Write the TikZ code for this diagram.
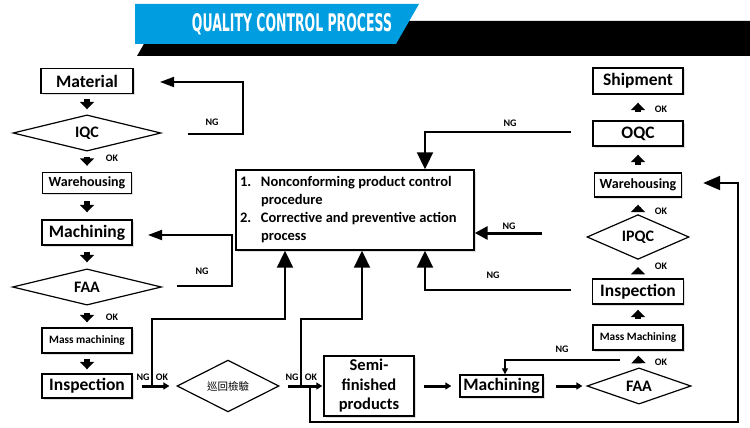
\documentclass[tikz,border=0pt]{standalone}
\usepackage{fontspec}
\setmainfont{Carlito}
\newfontfamily\cjkfont{Noto Sans CJK TC}
\newfontfamily\bannerfont{DejaVu Sans}
\usetikzlibrary{arrows.meta,shapes.geometric,shadows}
\definecolor{bannerblue}{RGB}{0,157,224}
\begin{document}
\begin{tikzpicture}[x=1pt,y=-1pt,
  box/.style={draw, line width=1.4pt, fill=white, inner sep=0pt,
    drop shadow={opacity=0.25,shadow xshift=1.5pt,shadow yshift=-1.5pt}},
  dia/.style={draw, diamond, line width=1.2pt, fill=white, inner sep=0pt},
  bsize/.style={font=\fontsize{17.5}{18}\selectfont\bfseries},
  dsize/.style={font=\fontsize{16}{16}\selectfont\bfseries},
  msize/.style={font=\fontsize{14}{15}\selectfont\bfseries},
  ssize/.style={font=\fontsize{11.3}{12}\selectfont\bfseries},
  fat/.style={line width=5.5pt, -{Triangle[width=14pt,length=7.5pt]}},
  ngline/.style={line width=1.8pt, -{Triangle[width=10pt,length=14pt]}},
  bigarr/.style={line width=2pt, -{Triangle[width=16pt,length=17pt]}},
  flow/.style={line width=3pt, -{Triangle[width=7pt,length=6pt]}},
  lbl/.style={font=\fontsize{10}{10}\selectfont\bfseries, inner sep=0pt},
  plain/.style={line width=1.8pt}
]
\useasboundingbox (0,0) rectangle (750,428);
\fill[white] (0,0) rectangle (750,428);

% banner
\fill[black] (137,56) -- (157,21) -- (750,21) -- (750,56) -- cycle;
\fill[bannerblue] (135,4) -- (419,4) -- (396,44) -- (135,44) -- cycle;
\node[text=white, inner sep=0pt] (title) at (292,24)
  {\resizebox{200pt}{18pt}{\bannerfont\bfseries QUALITY CONTROL PROCESS}};

% left column
\node[box, bsize, minimum width=92pt, minimum height=25pt] (mat) at (87,81) {Material};
\node[dia, dsize, minimum width=148pt, minimum height=33pt] (iqc) at (87,133) {IQC};
\node[box, msize, minimum width=89pt, minimum height=21pt] (wh1) at (87,183) {Warehousing};
\node[box, bsize, minimum width=90pt, minimum height=25pt] (mach1) at (87,232.5) {Machining};
\node[dia, dsize, minimum width=149pt, minimum height=34pt] (faa1) at (87,287) {FAA};
\node[box, ssize, minimum width=90pt, minimum height=25pt] (mass1) at (87,340.5) {Mass machining};
\node[box, bsize, minimum width=90pt, minimum height=24pt] (insp1) at (87,386) {Inspection};

\draw[fat, shorten <=5pt, shorten >=5pt] (mat) -- (iqc);
\draw[fat, shorten <=5pt, shorten >=6pt] (iqc) -- (wh1);
\draw[fat, shorten <=7pt, shorten >=7pt] (wh1) -- (mach1);
\draw[fat, shorten <=6pt, shorten >=6pt] (mach1) -- (faa1);
\draw[fat, shorten <=7pt, shorten >=5pt] (faa1) -- (mass1);
\draw[fat, shorten <=5pt, shorten >=4pt] (mass1) -- (insp1);
\node[lbl] (ok1) at (112,158) {OK};
\node[lbl] (ok2) at (112,317) {OK};

% central box
\node[box, minimum width=238pt, minimum height=74pt, text width=230pt, inner sep=4pt, align=left] (big) at (355,210)
  {\fontsize{14.5}{18}\selectfont\bfseries
   \begin{tabular}{@{}p{21pt}@{}l@{}}
   1. & Nonconforming product control\\
      & procedure\\
   2. & Corrective and preventive action\\
      & process
   \end{tabular}};

% left NG loops
\coordinate (iqcng) at (188,134);
\coordinate (matng) at (160,82);
\draw[ngline] (iqcng) -| (243,82) -- (matng);
\node[lbl] (ng1) at (212,122) {NG};
\coordinate (faang) at (177,286);
\coordinate (machng) at (148,235);
\draw[ngline] (faang) -| (232,235) -- (machng);
\node[lbl] (ng2) at (202,271) {NG};

% bottom row
\node[dia, minimum width=102pt, minimum height=28pt, font=\fontsize{10.5}{11}\cjkfont] (cn) at (228,386) {巡回檢驗};
\node[box, align=center, minimum width=90pt, minimum height=60pt, font=\fontsize{16.5}{19.5}\selectfont\bfseries] (semi) at (369,386) {Semi-\\finished\\products};
\node[box, bsize, minimum width=83pt, minimum height=22pt] (mach2) at (501.5,386) {Machining};
\node[dia, dsize, minimum width=104pt, minimum height=32pt] (faa2) at (639,386) {FAA};

% right column
\node[box, ssize, minimum width=90pt, minimum height=25pt] (mass2) at (638,337.5) {Mass Machining};
\node[box, bsize, minimum width=91pt, minimum height=25pt] (insp2) at (638,291.5) {Inspection};
\node[dia, dsize, minimum width=102pt, minimum height=30pt] (ipqc) at (638,237) {IPQC};
\node[box, msize, minimum width=87pt, minimum height=24pt] (wh2) at (638,185) {Warehousing};
\node[box, bsize, minimum width=90pt, minimum height=25pt] (oqc) at (638,133.5) {OQC};
\node[box, bsize, minimum width=90pt, minimum height=26pt] (ship) at (638,81) {Shipment};

\draw[flow] ([xshift=9pt]insp1.east) -- ([xshift=-7pt]cn.west);
\node[lbl] (ng3) at (143,377) {NG};
\node[lbl] (ok3) at (162,377) {OK};
\coordinate (j1) at (152,386);
\coordinate (c1) at (285,319);
\draw[bigarr] (j1) |- (c1) -- (c1 |- big.south);

\draw[flow] ([xshift=8pt]cn.east) -- ([xshift=-1pt]semi.west);
\node[lbl] (ng4) at (292,377) {NG};
\node[lbl] (ok4) at (311,377) {OK};
\coordinate (j2) at (301,386);
\coordinate (c2) at (362,319);
\draw[bigarr] (j2) |- (c2) -- (c2 |- big.south);

\coordinate (j3) at (310,386);
\coordinate (c6) at (310,422);
\coordinate (c7) at (738,183);
\draw[line width=2.2pt, -{Triangle[width=14pt,length=17pt]}] (j3) -- (c6) -| (c7) -- ([xshift=21pt]c7 -| wh2.east);

\draw[flow] ([xshift=9pt]semi.east) -- ([xshift=-8pt]mach2.west);
\draw[flow] ([xshift=12pt]mach2.east) -- ([xshift=-4pt]faa2.west);

\draw[fat, shorten <=4pt, shorten >=5pt] (faa2) -- (mass2);
\draw[fat, shorten <=5pt, shorten >=5pt] (mass2) -- (insp2);
\draw[fat, shorten <=8pt, shorten >=7pt] (insp2) -- (ipqc);
\draw[fat, shorten <=7pt, shorten >=7pt] (ipqc) -- (wh2);
\draw[fat, shorten <=7pt, shorten >=8pt] (wh2) -- (oqc);
\draw[fat, shorten <=8pt, shorten >=8pt] (oqc) -- (ship);
\node[lbl] (ok5) at (661,362) {OK};
\node[lbl] (ok6) at (661,266) {OK};
\node[lbl] (ok7) at (661,211) {OK};
\node[lbl] (ok8) at (661,109) {OK};

% right NG lines
\coordinate (oqcng) at (571,132);
\coordinate (c3) at (425,132);
\draw[bigarr] (oqcng) -- (c3) -- (c3 |- big.north);
\node[lbl] (ng5) at (510,123) {NG};

\coordinate (ipqcng) at (542,233);
\draw[line width=3pt, -{Triangle[width=13pt,length=13pt]}] (ipqcng) -- (ipqcng -| big.east);
\node[lbl] (ng6) at (509,226) {NG};

\coordinate (insp2ng) at (571,290);
\coordinate (c4) at (425,290);
\draw[bigarr] (insp2ng) -- (c4) -- (c4 |- big.south);
\node[lbl] (ng7) at (493,275) {NG};

\coordinate (faa2ng) at (620,360);
\coordinate (c5) at (505,360);
\draw[line width=1.2pt, -{Triangle[width=6pt,length=6pt]}] (faa2ng) -- (c5) -- (c5 |- mach2.north);
\node[lbl] (ng8) at (562,349) {NG};
\end{tikzpicture}
\end{document}
